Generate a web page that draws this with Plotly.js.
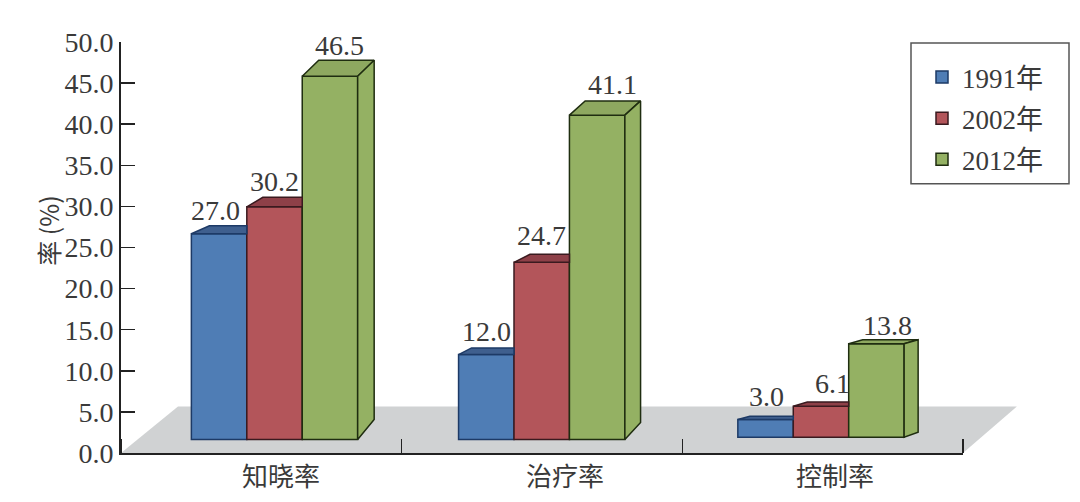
<!DOCTYPE html>
<html><head><meta charset="utf-8">
<script src="https://cdn.plot.ly/plotly-3.0.1.min.js"></script>
<style>html,body{margin:0;padding:0;background:#fff}</style></head>
<body><div id="chart" style="width:1080px;height:502px"></div>
<script>
// ---- data ----
const categories = ['知晓率','治疗率','控制率'];
const seriesNames = ['1991年','2002年','2012年'];
const labels1991 = ['27.0','12.0','3.0'];
const labels2002 = ['30.2','24.7','6.1'];
const labels2012 = ['46.5','41.1','13.8'];
// height of each front face as actually drawn against the axis
const tops1991 = [26.67,11.97,4.07];
const tops2002 = [29.95,23.2,5.69];
const tops2012 = [45.83,41.1,13.3];
const yTicks = [0,5,10,15,20,25,30,35,40,45,50];

// ---- style / geometry ----
const W = 1080, H = 502, L = 121, R = 963, T = 42, B = 453.5;
const pxX = (R-L)/3, pxY = (B-T)/50;
const groupCentres = [0.547,1.499,2.494];
const catLabelPos = [0.57,1.582,2.544];
const barW = 0.1975;
const bases = [1.64,1.64,1.93];
const fronts = ['#4f7db5','#b3555a','#94b163'];
const topFaces = ['#3f5f8e','#8e4048','#8ea860'];
const edges = ['#1d3a66','#3a1a1f','#1f2d10'];
const riseTop = [[8,6.7,3.3],[9.5,8,4.3],[16,14.3,4]];
const runTop = [[18,13,12],[16,16,14],[16.5,15.7,14]];
const riseBottom = [20,17,5];
const labelDX = [[-4,0,1],[0,0,12],[10,15,11]];
const labelDY = [[23,23,23],[25,27,23],[31,31,18]];
const tf = {family:'"Liberation Serif","Noto Sans CJK SC",serif', size:28, color:'#3a3a3a'};
const cf = {family:'"Noto Sans CJK SC","Liberation Serif",serif', size:26, color:'#3a3a3a'};

const allTops = [tops1991,tops2002,tops2012];
const allLabels = [labels1991,labels2002,labels2012];
const traces = [], annotations = [];

seriesNames.forEach((name,s)=>{
  const xs = groupCentres.map(c=>c+(s-1)*barW);
  traces.push({type:'bar', name, legendgroup:name, x:xs, y:allTops[s].map((v,i)=>v-bases[i]), base:bases,
    width:barW, marker:{color:fronts[s], line:{color:edges[s], width:1.5}}, hoverinfo:'skip'});
  const tx=[], ty=[];
  xs.forEach((x,i)=>{
    const left=x-barW/2, right=x+barW/2, v=allTops[s][i];
    const dx=runTop[s][i]/pxX, dy=riseTop[s][i]/pxY;
    const backRight = s===2 ? right+dx : right;
    tx.push(left,left+dx,backRight,right,left,null);
    ty.push(v,v+dy,v+dy,v,v,null);
    annotations.push({x, y:v, xref:'x', yref:'y', text:allLabels[s][i], showarrow:false,
      xshift:labelDX[s][i], yshift:labelDY[s][i], font:tf});
  });
  traces.push({type:'scatter', mode:'lines', x:tx, y:ty, fill:'toself', fillcolor:topFaces[s],
    line:{color:edges[s], width:1.5}, showlegend:false, hoverinfo:'skip', cliponaxis:false});
  if(s===2){
    const sx=[], sy=[];
    xs.forEach((x,i)=>{
      const right=x+barW/2, v=allTops[s][i], dx=runTop[s][i]/pxX;
      sx.push(right,right+dx,right+dx,right,right,null);
      sy.push(v,v+riseTop[s][i]/pxY,bases[i]+riseBottom[i]/pxY,bases[i],v,null);
    });
    traces.push({type:'scatter', mode:'lines', x:sx, y:sy, fill:'toself', fillcolor:fronts[s],
      line:{color:edges[s], width:1.5}, showlegend:false, hoverinfo:'skip', cliponaxis:false});
  }
});

annotations.push({xref:'paper', yref:'paper', x:(28-L)/(R-L), y:(B-231)/(B-T), text:'率 (%)', textangle:-90,
  showarrow:false, font:{family:cf.family, size:25, color:'#3a3a3a'}});

const floorTop = 5.65;
const shapes = [
  {type:'path', layer:'below', xref:'paper', yref:'y', line:{width:0}, fillcolor:'#d0d2d3',
   path:`M0,0 L${0.203/3},${floorTop} L${3.192/3},${floorTop} L1,0 Z`},
  {type:'rect', xref:'paper', yref:'paper', x0:(911-L)/(R-L), x1:(1069-L)/(R-L),
   y0:(B-184)/(B-T), y1:(B-43)/(B-T), line:{color:'#555', width:1.5}, fillcolor:'rgba(0,0,0,0)'}
];

const layout = {
  width:W, height:H, paper_bgcolor:'#fff', plot_bgcolor:'rgba(0,0,0,0)', barmode:'overlay',
  margin:{l:L, r:W-R, t:T, b:H-B, pad:0},
  xaxis:{range:[0,3], showgrid:false, zeroline:false, showline:true, linecolor:'#222', linewidth:2,
    tickmode:'array', tickvals:catLabelPos, ticktext:categories, ticks:'', tickfont:cf,
    minor:{tickmode:'array', tickvals:[0,1,2,3], ticks:'inside', ticklen:14, tickcolor:'#222', tickwidth:1.5, showgrid:false}},
  yaxis:{range:[0,50], showgrid:false, zeroline:false, showline:true, linecolor:'#222', linewidth:2,
    tickmode:'array', tickvals:yTicks, tickformat:'.1f', ticks:'inside', ticklen:14, tickcolor:'#222', tickwidth:1.5, tickfont:tf},
  legend:{x:(922-L)/(R-L), xanchor:'left', y:(B-53)/(B-T), yanchor:'top', font:{family:tf.family,size:27,color:'#3a3a3a'},
    bgcolor:'rgba(0,0,0,0)', borderwidth:0, traceorder:'grouped', tracegroupgap:3},
  showlegend:true, annotations, shapes
};
Plotly.newPlot('chart', traces, layout, {displayModeBar:false, staticPlot:true});
</script></body></html>
